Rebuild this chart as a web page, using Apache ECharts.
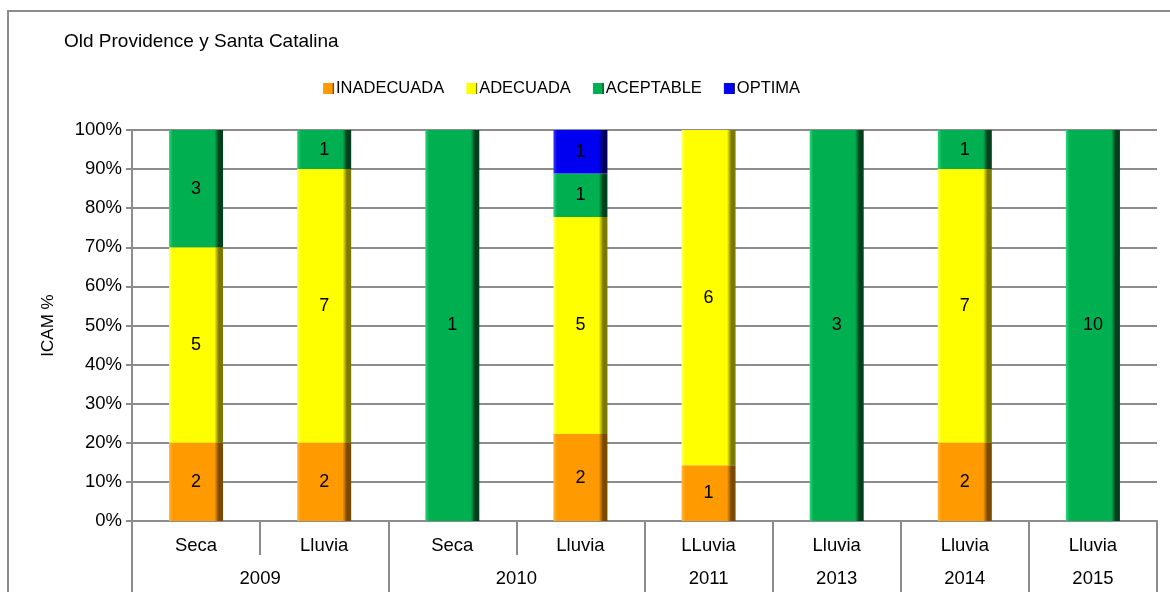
<!DOCTYPE html>
<html>
<head>
<meta charset="utf-8">
<script src="https://cdn.jsdelivr.net/npm/echarts@6/dist/echarts.min.js"></script>
<style>
  html, body { margin: 0; padding: 0; background: #fff; }
  #chart { width: 1170px; height: 592px; }
</style>
</head>
<body>
<div id="chart"></div>
<script>
// Sampling campaigns (season) and the year each belongs to
const seasons = ['Seca', 'Lluvia', 'Seca', 'Lluvia', 'LLuvia', 'Lluvia', 'Lluvia', 'Lluvia'];
const years = ['2009', '2010', '2011', '2013', '2014', '2015'];
const yearSpan = [2, 2, 1, 1, 1, 1]; // number of campaigns per year

// Number of stations in each ICAM quality class
const inadecuada = [2, 2, 0, 2, 1, 0, 2, 0];
const adecuada   = [5, 7, 0, 5, 6, 0, 7, 0];
const aceptable  = [3, 1, 1, 1, 0, 3, 1, 10];
const optima     = [0, 0, 0, 1, 0, 0, 0, 0];

const yTicks = [0, 10, 20, 30, 40, 50, 60, 70, 80, 90, 100];

const classes = [
  { name: 'INADECUADA', counts: inadecuada, base: '#FF9A00', light: '#FFB43C', dark: '#7A4A00' },
  { name: 'ADECUADA',   counts: adecuada,   base: '#FFFF00', light: '#FFFF6A', dark: '#7A7A00' },
  { name: 'ACEPTABLE',  counts: aceptable,  base: '#00B050', light: '#2ED47A', dark: '#00401C' },
  { name: 'OPTIMA',     counts: optima,     base: '#0000F0', light: '#3A3AFF', dark: '#00005A' }
];

const totals = seasons.map((_, i) => classes.reduce((s, c) => s + c.counts[i], 0));

function bevel(c) {
  return {
    type: 'linear', x: 0, y: 0, x2: 1, y2: 0,
    colorStops: [
      { offset: 0, color: c.light },
      { offset: 0.07, color: c.base },
      { offset: 0.84, color: c.base },
      { offset: 0.92, color: c.dark },
      { offset: 1, color: c.dark }
    ]
  };
}

const font = 'Liberation Sans, Arial, sans-serif';
const gray = '#8c8c8c';

const series = classes.map(c => ({
  name: c.name,
  type: 'bar',
  stack: 'icam',
  barWidth: 54,
  data: c.counts.map((v, i) => v > 0 ? { value: v / totals[i] * 100, count: v } : null),
  itemStyle: { color: bevel(c) },
  label: {
    show: true,
    position: 'inside',
    color: '#000',
    fontFamily: font,
    fontSize: 18,
    formatter: p => p.data && p.data.count ? String(p.data.count) : ''
  }
}));

// Year axis: points on every half-campaign boundary, so year labels can sit
// at the middle of their group and ticks at the group edges.
const halfSlots = seasons.length * 2;
const yearAxisData = new Array(halfSlots + 1).fill('');
const yearEdges = new Set([0]);
let pos = 0;
years.forEach((y, k) => {
  yearAxisData[pos + yearSpan[k]] = y;
  pos += yearSpan[k] * 2;
  yearEdges.add(pos);
});

const chart = echarts.init(document.getElementById('chart'));
chart.setOption({
  animation: false,
  backgroundColor: '#fff',
  textStyle: { fontFamily: font },
  graphic: [{
    type: 'rect',
    shape: { x: 8, y: 11, width: 1200, height: 620 },
    style: { fill: 'none', stroke: '#8c8c8c', lineWidth: 2 },
    silent: true
  }],
  title: {
    text: 'Old Providence y Santa Catalina',
    left: 59, top: 27,
    textStyle: { fontFamily: font, fontSize: 19, fontWeight: 'normal', color: '#000' }
  },
  legend: {
    left: 318, top: 75,
    itemWidth: 11, itemHeight: 11, itemGap: 22,
    icon: 'rect',
    textStyle: { fontFamily: font, fontSize: 16.5, color: '#000', padding: [0, 0, 0, -3] },
    data: classes.map(c => ({ name: c.name, itemStyle: { color: bevel(c) } }))
  },
  grid: { left: 132, right: 13, top: 130, bottom: 71 },
  yAxis: {
    type: 'value',
    min: yTicks[0], max: yTicks[yTicks.length - 1], interval: 10,
    name: 'ICAM %',
    nameLocation: 'middle',
    nameGap: 75,
    nameTextStyle: { fontFamily: font, fontSize: 17, color: '#000' },
    axisLine: { show: true, lineStyle: { color: gray, width: 2 } },
    axisTick: { show: true, length: 6, lineStyle: { color: gray, width: 2 } },
    axisLabel: { formatter: '{value}%', color: '#000', fontSize: 18.5, fontFamily: font, margin: 10 },
    splitLine: { lineStyle: { color: gray, width: 2 } }
  },
  xAxis: [{
    type: 'category',
    data: seasons,
    position: 'bottom',
    axisLine: { lineStyle: { color: gray, width: 2 } },
    axisTick: { show: true, interval: 0, length: 34, lineStyle: { color: gray, width: 2 } },
    axisLabel: { interval: 0, color: '#000', fontSize: 18.5, fontFamily: font, margin: 15 }
  }, {
    type: 'category',
    data: yearAxisData,
    boundaryGap: false,
    position: 'bottom',
    axisLine: { show: false },
    axisTick: { show: true, length: 80, interval: i => yearEdges.has(i), lineStyle: { color: gray, width: 2 } },
    axisLabel: { interval: i => yearAxisData[i] !== '', color: '#000', fontSize: 18.5, fontFamily: font, margin: 48 }
  }],
  series: series
});
</script>
</body>
</html>
